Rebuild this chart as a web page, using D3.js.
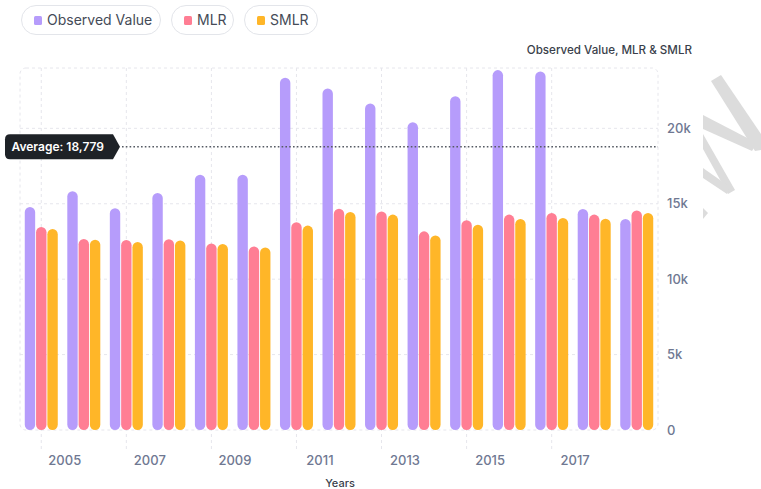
<!DOCTYPE html>
<html>
<head>
<meta charset="utf-8">
<script src="https://cdn.jsdelivr.net/npm/d3@7"></script>
<style>
  body { margin: 0; background: #fff; font-family: Inter, "Noto Sans", sans-serif; }
  svg { display: block; }
</style>
</head>
<body>
<svg id="chart"></svg>
<script>
const years = [2005, 2006, 2007, 2008, 2009, 2010, 2011, 2012, 2013, 2014, 2015, 2016, 2017, 2018, 2019];
const seriesNames = ["Observed Value", "MLR", "SMLR"];
const observed = [14790, 15830, 14700, 15720, 16930, 16930, 23350, 22640, 21650, 20410, 22130, 23860, 23770, 14650, 13990];
const mlr = [13460, 12660, 12600, 12640, 12370, 12170, 13770, 14670, 14480, 13170, 13900, 14280, 14390, 14280, 14560];
const smlr = [13330, 12620, 12460, 12570, 12330, 12100, 13550, 14450, 14280, 12900, 13610, 13990, 14060, 14010, 14390];
const yTicks = [0, 5000, 10000, 15000, 20000];
const xTickYears = [2005, 2007, 2009, 2011, 2013, 2015, 2017];
const averageValue = 18779;
const colors = ["#b69cfb", "#ff7e94", "#ffb628"];

const width = 761, height = 489;
const margin = { top: 68, right: 103, bottom: 59, left: 20 };

const svg = d3.select("#chart")
    .attr("width", width)
    .attr("height", height);

const x0 = d3.scaleBand()
    .domain(years)
    .range([margin.left, width - margin.right]);

const x1 = d3.scaleBand()
    .domain(seriesNames)
    .range([(x0.step() - 33) / 2, (x0.step() + 33) / 2])
    .paddingInner(0.08);

const y = d3.scaleLinear()
    .domain([0, 24000])
    .range([height - margin.bottom, margin.top]);

const plotLeft = margin.left, plotRight = width - margin.right;
const plotTop = margin.top, plotBottom = height - margin.bottom;

// grid
const grid = svg.append("g").attr("class", "grid")
    .attr("fill", "none")
    .attr("stroke", "#e6e6ec")
    .attr("stroke-dasharray", "3,3");

grid.append("rect")
    .attr("x", plotLeft)
    .attr("y", plotTop)
    .attr("width", plotRight - plotLeft)
    .attr("height", plotBottom - plotTop)
    .attr("rx", 6);

grid.selectAll(".hline")
    .data(yTicks.slice(1))
    .enter().append("line")
    .attr("class", "hline")
    .attr("x1", plotLeft)
    .attr("x2", plotRight)
    .attr("y1", d => y(d))
    .attr("y2", d => y(d));

grid.selectAll(".vline")
    .data(xTickYears)
    .enter().append("line")
    .attr("class", "vline")
    .attr("x1", d => x0(d) + x0.bandwidth() / 2)
    .attr("x2", d => x0(d) + x0.bandwidth() / 2)
    .attr("y1", plotTop)
    .attr("y2", plotBottom + 22);

// bars
const rows = years.map((yr, i) => ({
    year: yr,
    values: [observed[i], mlr[i], smlr[i]]
}));

const groups = svg.selectAll(".group")
    .data(rows)
    .enter().append("g")
    .attr("class", "group")
    .attr("transform", d => `translate(${x0(d.year)},0)`);

groups.selectAll("rect")
    .data(d => d.values.map((v, k) => ({ name: seriesNames[k], value: v, k: k })))
    .enter().append("rect")
    .attr("x", d => x1(d.name))
    .attr("width", x1.bandwidth())
    .attr("y", d => y(d.value))
    .attr("height", d => y(0) - y(d.value))
    .attr("rx", x1.bandwidth() / 2)
    .attr("fill", d => colors[d.k]);

// y axis (right side)
const yAxis = svg.append("g")
    .attr("transform", `translate(${plotRight},0)`)
    .call(d3.axisRight(y).tickValues(yTicks).tickSize(0).tickPadding(9)
        .tickFormat(d => d === 0 ? "0" : (d / 1000) + "k"));
yAxis.select(".domain").remove();
yAxis.selectAll("text")
    .attr("fill", "#6f7892")
    .style("font-family", "Inter, sans-serif")
    .style("font-size", "13px")
    .style("font-weight", "500");

// x axis labels
const xAxis = svg.append("g")
    .attr("transform", `translate(0,${plotBottom})`)
    .call(d3.axisBottom(x0).tickValues(xTickYears).tickSize(0).tickPadding(26));
xAxis.select(".domain").remove();
xAxis.selectAll("text")
    .attr("dx", 23.5)
    .attr("fill", "#6f7892")
    .style("font-family", "Inter, sans-serif")
    .style("font-size", "13px")
    .style("font-weight", "500");

svg.append("text")
    .attr("x", 340)
    .attr("y", 487)
    .attr("text-anchor", "middle")
    .attr("fill", "#3a3f4b")
    .style("font-size", "11px")
    .style("font-weight", "500")
    .text("Years");

svg.append("text")
    .attr("x", 692)
    .attr("y", 54)
    .attr("text-anchor", "end")
    .attr("fill", "#3a3f4b")
    .style("font-size", "11.6px")
    .style("font-weight", "500")
    .text("Observed Value, MLR & SMLR");

// average line
const avgY = y(averageValue);
svg.append("line")
    .attr("x1", 122)
    .attr("x2", plotRight)
    .attr("y1", avgY)
    .attr("y2", avgY)
    .attr("stroke", "#555a63")
    .attr("stroke-width", 1.6)
    .attr("stroke-dasharray", "1.6,2.2");

const bx = 5, bh = 25, bw = 108;
svg.append("path")
    .attr("d", `M${bx + 5},${avgY - bh / 2} H${bx + bw} L${bx + bw + 7},${avgY} L${bx + bw},${avgY + bh / 2} H${bx + 5}
        Q${bx},${avgY + bh / 2} ${bx},${avgY + bh / 2 - 5} V${avgY - bh / 2 + 5} Q${bx},${avgY - bh / 2} ${bx + 5},${avgY - bh / 2} Z`)
    .attr("fill", "#1e2227");

svg.append("text")
    .attr("x", 11.5)
    .attr("y", avgY)
    .attr("dy", "0.35em")
    .attr("fill", "#fff")
    .style("font-size", "12px")
    .style("font-weight", "600")
    .text("Average: " + d3.format(",")(averageValue));

// legend pills
const pills = [
    { x: 21, w: 139 },
    { x: 171, w: 62 },
    { x: 244, w: 73 }
];
const legend = svg.append("g");
seriesNames.forEach((name, k) => {
    const g = legend.append("g").attr("transform", `translate(${pills[k].x},5)`);
    g.append("rect")
        .attr("x", 0.5).attr("y", 0.5)
        .attr("width", pills[k].w).attr("height", 29)
        .attr("rx", 14.5)
        .attr("fill", "#fff")
        .attr("stroke", "#e3e5ea");
    g.append("rect")
        .attr("x", 13).attr("y", 11)
        .attr("width", 8).attr("height", 9)
        .attr("rx", 1.5)
        .attr("fill", colors[k]);
    g.append("text")
        .attr("x", 26)
        .attr("y", 15.5)
        .attr("dy", "0.35em")
        .attr("fill", "#454b57")
        .style("font-size", "14px")
        .text(name);
});

// watermark shapes
const mark = svg.append("g").attr("fill", "#dcdcdc");
mark.append("polygon").attr("points", "711,81 721,75 761,134 761,150 755,151");
mark.append("polygon").attr("points", "703,115 703,129 752,151 757,143");
mark.append("polygon").attr("points", "703,134 703,149 728,194 735,190");
mark.append("polygon").attr("points", "703,168 703,178 727,194 730,187");
mark.append("polygon").attr("points", "703,208 708,213 703,219");
</script>
</body>
</html>
